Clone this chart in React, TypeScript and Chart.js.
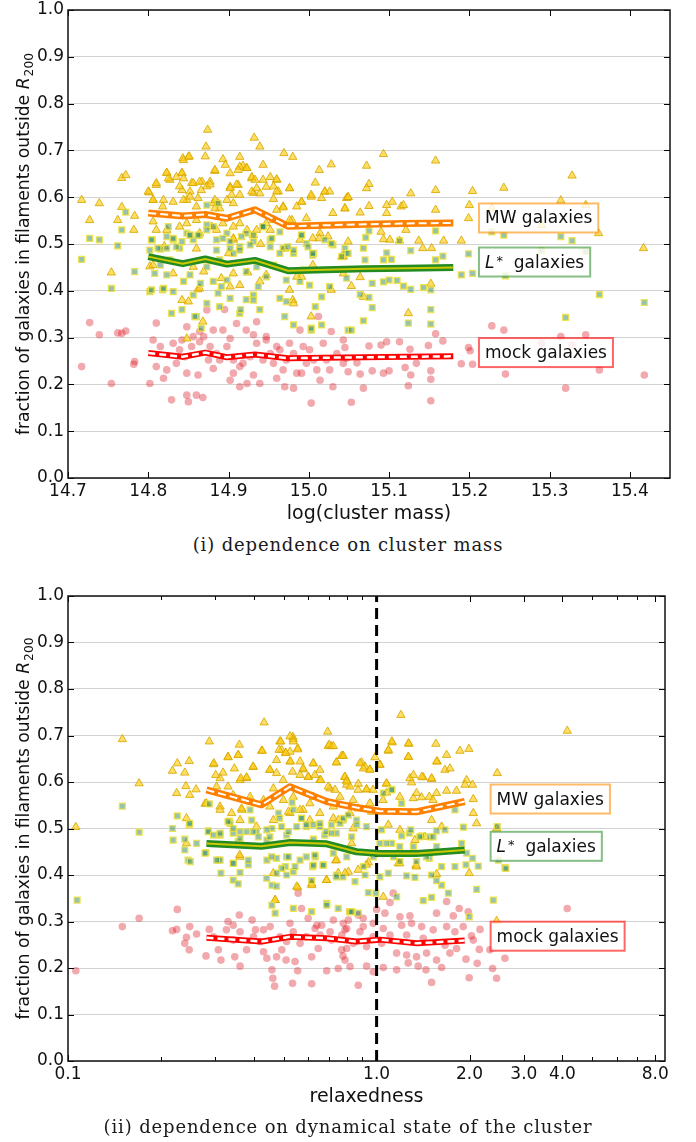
import React, { useEffect, useRef } from "react";
import { Chart, registerables } from "chart.js";

Chart.register(...registerables);

type Pt = [number, number];

// ---------- axis ticks ----------
const massTicks = [14.7, 14.8, 14.9, 15.0, 15.1, 15.2, 15.3, 15.4];
const fractionTicks = [0, 0.1, 0.2, 0.3, 0.4, 0.5, 0.6, 0.7, 0.8, 0.9, 1.0];
const relaxMajorTicks = [0.1, 1, 2, 3, 4, 8];
const relaxMinorTicks = [0.2, 0.3, 0.4, 0.5, 0.6, 0.7, 0.8, 0.9, 5, 6, 7];

// ---------- medians ----------
const massBins = [14.8, 14.843, 14.871, 14.898, 14.933, 14.974, 15.02, 15.07, 15.12, 15.18];
const massMWMedian = [0.566, 0.56, 0.563, 0.555, 0.573, 0.538, 0.54, 0.542, 0.544, 0.545];
const massLStarMedian = [0.473, 0.458, 0.468, 0.457, 0.465, 0.443, 0.445, 0.447, 0.448, 0.45];
const massMockMedian = [0.267, 0.259, 0.268, 0.258, 0.264, 0.256, 0.257, 0.258, 0.259, 0.26];

const relaxBins = [0.281, 0.424, 0.524, 0.689, 0.861, 1.025, 1.35, 1.93];
const relaxMWMedian = [0.583, 0.551, 0.59, 0.558, 0.545, 0.537, 0.536, 0.558];
const relaxLStarMedian = [0.468, 0.462, 0.47, 0.467, 0.45, 0.446, 0.446, 0.454];
const relaxMockMedian = [0.265, 0.257, 0.267, 0.264, 0.257, 0.261, 0.253, 0.259];

const relaxedThreshold = 1.0;

// ---------- scatter: cluster mass panel ----------
const massMWPts: Pt[] = [
  [14.717,0.594],[14.727,0.551],[14.739,0.587],[14.762,0.551],[14.767,0.641],[14.772,0.647],[14.767,0.579],[14.782,0.53],[14.783,0.56],
  [14.874,0.744],[14.872,0.708],[14.932,0.727],[14.939,0.708],[14.969,0.694],[14.98,0.686],[14.843,0.683],[14.85,0.686],[14.914,0.686],
  [14.893,0.681],[14.871,0.687],[14.823,0.652],[14.842,0.651],[14.883,0.656],[14.896,0.669],[14.918,0.667],[14.922,0.662],[14.943,0.669],
  [14.96,0.637],[15.013,0.658],[15.028,0.67],[14.801,0.61],[14.81,0.626],[14.827,0.637],[14.842,0.615],[14.854,0.63],[14.867,0.633],
  [14.877,0.633],[14.902,0.622],[14.912,0.626],[14.929,0.64],[14.931,0.609],[14.947,0.622],[14.962,0.612],[14.976,0.619],[14.991,0.59],
  [15.003,0.601],[15.008,0.631],[15.02,0.612],[15.047,0.598],[14.806,0.594],[14.818,0.58],[14.848,0.594],[14.86,0.58],[14.881,0.587],
  [14.889,0.576],[14.906,0.587],[14.956,0.596],[14.968,0.58],[15.03,0.566],[15.014,0.523],[14.979,0.551],[14.81,0.53],[14.839,0.537],
  [14.864,0.523],[14.885,0.53],[14.906,0.509],[14.931,0.519],[14.952,0.53],[14.989,0.509],[15.024,0.516],[15.043,0.473],
  [15.093,0.692],[15.158,0.678],[15.072,0.667],[15.328,0.646],[15.075,0.628],[15.072,0.619],[15.127,0.608],[15.158,0.615],[15.204,0.613],
  [15.243,0.62],[15.314,0.593],[15.345,0.583],[15.049,0.6],[15.045,0.576],[15.075,0.581],[15.097,0.583],[15.104,0.59],[15.115,0.58],
  [15.118,0.583],[15.064,0.567],[15.097,0.566],[15.158,0.573],[15.2,0.583],[15.199,0.555],[15.228,0.576],[15.29,0.54],[15.361,0.523],
  [15.417,0.491],[15.09,0.526],[15.121,0.53],[15.093,0.51],[15.101,0.509],[15.113,0.507],[15.137,0.507],[15.168,0.507],[15.19,0.507],
  [15.142,0.491],[15.153,0.491],[15.041,0.473],[15.064,0.429],[15.053,0.41],[15.068,0.387],[15.152,0.415],[15.124,0.352],
  [14.754,0.439],[14.802,0.452],[14.842,0.38],[14.85,0.377],[14.862,0.403],[14.869,0.441],[14.891,0.427],[14.914,0.412],[14.924,0.439],
  [14.939,0.42],[14.976,0.402],[14.98,0.38],[14.991,0.43],[15.003,0.345],[15.028,0.402],[15.043,0.437],[14.848,0.298],[14.868,0.334],
  [14.806,0.455],[14.831,0.437],[14.856,0.451],[14.906,0.437],[14.947,0.434],[14.985,0.43],[15.005,0.455],[14.864,0.405],[14.902,0.409],
  [14.981,0.373],[14.82,0.495],[14.86,0.49],[14.9,0.48],[14.94,0.5],[14.97,0.49],
  [14.8,0.612],[14.81,0.63],[14.823,0.652],[14.825,0.64],[14.835,0.643],[14.842,0.652],[14.844,0.64],[14.839,0.623],[14.852,0.612],
  [14.856,0.63],[14.864,0.633],[14.866,0.615],[14.873,0.623],[14.877,0.627],[14.806,0.594],[14.819,0.594],[14.831,0.59],[14.844,0.594],
  [14.852,0.601],[14.862,0.598],[14.883,0.594],[14.887,0.587],[14.883,0.576],[14.898,0.594],[14.902,0.619],[14.91,0.627],[14.904,0.605],
  [14.914,0.605],[14.914,0.665],[14.912,0.658],[14.923,0.662],[14.929,0.643],[14.933,0.637],[14.943,0.637],[14.952,0.643],[14.96,0.638],
  [14.929,0.612],[14.935,0.619],[14.939,0.608],[14.956,0.623],[14.96,0.612],[14.976,0.619],[15.003,0.605],[15.016,0.598],[15.02,0.612],
  [15.026,0.612],[15.049,0.6],[14.991,0.59],[14.985,0.58],[14.968,0.578],[14.96,0.573],[15.045,0.576],[14.902,0.651],[14.883,0.658],
  [14.844,0.679],[14.851,0.687],[14.806,0.548],[14.823,0.53],[14.848,0.544],[14.86,0.551],[14.879,0.537],[14.893,0.544],[14.906,0.537],
  [14.914,0.544],[14.923,0.53],[14.935,0.53],[14.947,0.544],[14.956,0.551],[14.976,0.551],[14.997,0.555],[14.906,0.512],[15.005,0.512],
  [15.013,0.512],[15.049,0.505]
];

const massLStarPts: Pt[] = [
  [14.717,0.467],[14.727,0.512],[14.739,0.509],[14.762,0.496],[14.772,0.568],[14.767,0.53],[14.805,0.509],[14.815,0.489],[14.825,0.537],
  [14.831,0.509],[14.839,0.491],[14.848,0.523],[14.856,0.509],[14.864,0.519],[14.873,0.583],[14.881,0.537],[14.887,0.587],[14.898,0.523],
  [14.906,0.48],[14.914,0.494],[14.922,0.523],[14.931,0.505],[14.943,0.537],[14.952,0.509],[14.968,0.491],[14.981,0.48],[14.991,0.519],
  [15.006,0.48],[15.02,0.509],[15.03,0.498],[15.045,0.491],
  [14.754,0.405],[14.783,0.441],[14.802,0.398],[14.808,0.437],[14.818,0.402],[14.823,0.434],[14.829,0.352],[14.831,0.398],[14.842,0.36],
  [14.844,0.42],[14.852,0.434],[14.856,0.391],[14.86,0.345],[14.865,0.416],[14.866,0.32],[14.873,0.373],[14.881,0.42],[14.887,0.395],
  [14.889,0.366],[14.898,0.423],[14.902,0.384],[14.914,0.352],[14.915,0.36],[14.922,0.381],[14.931,0.391],[14.937,0.409],[14.939,0.36],
  [14.947,0.43],[14.964,0.384],[14.972,0.377],[14.981,0.327],[14.989,0.42],[15.001,0.412],[15.003,0.316],[15.008,0.366],[15.016,0.387],
  [15.016,0.327],[15.026,0.409],[15.047,0.427],[15.049,0.316],
  [14.802,0.487],[14.823,0.516],[14.835,0.494],[14.852,0.519],[14.873,0.541],[14.885,0.487],[14.902,0.505],[14.914,0.487],[14.927,0.498],
  [14.943,0.537],[14.952,0.494],[14.964,0.48],[14.981,0.487],[14.997,0.501],[15.005,0.476],[14.815,0.455],[14.827,0.466],[14.873,0.451],
  [14.889,0.466],[14.922,0.441],[14.935,0.451],[14.956,0.455],[14.972,0.423],[14.993,0.444],[14.804,0.402],[14.819,0.405],[14.858,0.345],
  [14.891,0.409],[14.931,0.38],[14.97,0.345],[15.003,0.32],
  [15.075,0.528],[15.158,0.528],[15.228,0.526],[15.243,0.519],[15.314,0.516],[15.328,0.507],[15.071,0.514],[15.113,0.507],[15.046,0.48],
  [15.068,0.491],[15.097,0.481],[15.127,0.486],[15.167,0.474],[15.199,0.479],[15.29,0.486],[15.345,0.484],[15.093,0.466],[15.103,0.467],
  [15.158,0.466],[15.07,0.466],
  [15.19,0.434],[15.204,0.437],[15.245,0.432],[15.079,0.416],[15.093,0.419],[15.1,0.423],[15.11,0.422],[15.118,0.41],[15.127,0.403],
  [15.143,0.407],[15.152,0.402],[15.064,0.392],[15.075,0.386],[15.079,0.364],[15.362,0.392],[15.418,0.375],[15.068,0.336],[15.053,0.316],
  [15.32,0.343],[15.124,0.331],[15.152,0.36],[15.152,0.329],
  [14.804,0.509],[14.812,0.491],[14.823,0.491],[14.831,0.512],[14.842,0.505],[14.852,0.519],[14.862,0.519],[14.873,0.53],[14.885,0.509],
  [14.893,0.512],[14.902,0.491],[14.916,0.516],[14.931,0.519],[14.943,0.537],[14.954,0.512],[14.964,0.526],[14.974,0.494],[14.991,0.519],
  [14.999,0.494],[15.005,0.48],[15.028,0.501],[15.041,0.473],[15.049,0.48]
];

const massMockPts: Pt[] = [
  [14.717,0.238],[14.727,0.332],[14.739,0.306],[14.754,0.202],[14.762,0.31],[14.767,0.309],[14.772,0.314],[14.782,0.243],[14.783,0.249],
  [14.802,0.202],[14.806,0.295],[14.81,0.331],[14.819,0.213],[14.829,0.167],[14.848,0.177],[14.85,0.163],[14.86,0.177],[14.868,0.172],
  [14.873,0.359],[14.881,0.316],[14.893,0.316],[14.895,0.36],[14.902,0.209],[14.914,0.195],[14.923,0.202],[14.935,0.334],[14.939,0.202],
  [14.947,0.295],[14.96,0.213],[14.97,0.195],[14.981,0.192],[14.991,0.224],[15.003,0.16],[15.012,0.345],[15.014,0.209],[15.03,0.195],
  [15.047,0.256],[15.043,0.295],[15.028,0.313],
  [14.831,0.288],[14.839,0.274],[14.846,0.259],[14.854,0.281],[14.864,0.291],[14.875,0.252],[14.885,0.266],[14.898,0.281],[14.906,0.252],
  [14.914,0.238],[14.927,0.259],[14.935,0.288],[14.943,0.252],[14.952,0.266],[14.964,0.274],[14.972,0.252],[14.981,0.266],[14.993,0.281],
  [15.006,0.252],[15.018,0.288],[15.026,0.231],[14.81,0.238],[14.823,0.231],[14.835,0.245],[14.848,0.224],[14.862,0.22],[14.881,0.234],
  [14.889,0.252],[14.906,0.224],[14.918,0.245],[14.931,0.22],[14.956,0.245],[14.968,0.231],[14.985,0.224],[14.997,0.245],[15.01,0.231],
  [15.022,0.252],[15.035,0.266],[14.815,0.281],[14.842,0.295],[14.856,0.302],[14.869,0.302],[14.877,0.281],[14.902,0.298],[14.931,0.306],
  [14.947,0.302],[14.96,0.281],[14.976,0.288],[15.001,0.274],[14.848,0.323],[14.864,0.313],[14.91,0.33],[14.922,0.316],[14.989,0.316],
  [15.228,0.325],[15.243,0.316],[15.158,0.308],[15.167,0.293],[15.29,0.288],[15.314,0.302],[15.345,0.306],[15.328,0.284],[15.199,0.279],
  [15.201,0.272],[15.19,0.244],[15.204,0.243],[15.245,0.222],[15.362,0.231],[15.418,0.22],[15.32,0.192],[15.152,0.229],[15.152,0.211],
  [15.152,0.165],[15.124,0.197],[15.068,0.192],[15.053,0.162],[15.127,0.22],[15.093,0.224],[15.1,0.229],[15.064,0.222],[15.045,0.279],
  [15.075,0.282],[15.09,0.284],[15.097,0.291],[15.113,0.291],[15.126,0.275],[15.149,0.283],[15.134,0.245],[15.12,0.236],[15.079,0.229],
  [15.049,0.227],[15.043,0.245],[15.06,0.246]
];

// ---------- scatter: relaxedness panel ----------
const relaxMWPts: Pt[] = [
  [0.106,0.503],[0.15,0.692],[0.17,0.597],[0.218,0.624],[0.226,0.64],[0.239,0.62],[0.247,0.645],[0.225,0.576],[0.241,0.591],[0.248,0.572],
  [0.26,0.584],[0.242,0.522],[0.287,0.687],[0.278,0.553],[0.296,0.638],[0.311,0.608],[0.33,0.654],[0.356,0.658],[0.361,0.604],[0.379,0.608],
  [0.398,0.632],[0.424,0.667],[0.432,0.728],[0.451,0.626],[0.474,0.619],[0.486,0.687],[0.492,0.669],[0.507,0.663],[0.524,0.665],[0.535,0.697],
  [0.537,0.692],[0.555,0.672],[0.524,0.644],[0.565,0.644],[0.578,0.627],[0.601,0.611],[0.624,0.64],[0.655,0.604],[0.694,0.708],[0.697,0.677],
  [0.714,0.677],[0.741,0.642],[0.776,0.656],[0.789,0.611],[0.8,0.594],[0.303,0.59],[0.33,0.59],[0.343,0.572],[0.366,0.54],[0.389,0.558],
  [0.43,0.561],[0.463,0.586],[0.499,0.561],[0.537,0.568],[0.624,0.568],[0.706,0.586],[0.724,0.547],[0.311,0.547],[0.361,0.518],[0.408,0.504],
  [0.463,0.518],[0.524,0.533],[0.578,0.54],[0.655,0.533],[0.751,0.518],
  [1.199,0.744],[4.147,0.71],[1.124,0.685],[1.273,0.682],[1.556,0.682],[1.091,0.667],[1.266,0.654],[1.686,0.658],[1.862,0.667],[1.991,0.671],
  [0.77,0.656],[0.988,0.653],[1.025,0.637],[0.894,0.642],[0.917,0.633],[0.951,0.627],[1.572,0.644],[1.665,0.626],[1.728,0.629],[2.46,0.619],
  [1.298,0.599],[1.416,0.61],[1.507,0.606],[1.282,0.608],[1.957,0.604],[1.933,0.594],[2.046,0.594],[1.816,0.581],[1.686,0.581],[1.564,0.576],
  [1.399,0.567],[1.481,0.568],[1.315,0.565],[1.077,0.596],[1.077,0.577],[0.928,0.584],[0.872,0.596],[0.8,0.604],[0.82,0.59],[2.057,0.563],
  [2.109,0.511],[2.448,0.5],[2.057,0.533],[1.091,0.508],[1.19,0.497],[1.507,0.518],[1.624,0.504],[1.331,0.475],[1.434,0.482],[0.963,0.536],
  [0.82,0.533],[0.872,0.543],
  [0.463,0.404],[0.469,0.346],[0.555,0.373],[0.616,0.381],[0.688,0.389],[0.737,0.431],[0.751,0.404],[0.81,0.407],
  [1.051,0.353],[1.175,0.425],[1.341,0.421],[1.564,0.402],[1.995,0.404],[2.448,0.301],[0.94,0.427],[0.79,0.404],
  [0.361,0.439],[0.551,0.375],[0.469,0.346],[0.689,0.389],[0.617,0.378],[0.871,0.411],[0.242,0.468],
  [0.297,0.64],[0.301,0.615],[0.318,0.62],[0.33,0.653],[0.346,0.629],[0.359,0.68],[0.356,0.658],[0.363,0.608],[0.379,0.61],[0.398,0.633],
  [0.426,0.667],[0.451,0.626],[0.474,0.647],[0.483,0.669],[0.489,0.687],[0.498,0.604],[0.508,0.662],[0.524,0.698],[0.537,0.687],[0.555,0.67],
  [0.526,0.644],[0.534,0.622],[0.565,0.615],[0.578,0.629],[0.6,0.611],[0.623,0.64],[0.631,0.615],[0.655,0.626],[0.659,0.604],[0.702,0.68],
  [0.724,0.677],[0.741,0.642],[0.78,0.656],[0.789,0.611],[0.697,0.59],[0.733,0.583],[0.8,0.601],[0.883,0.64],[0.906,0.629],[0.951,0.626],
  [0.871,0.583],[0.927,0.584],[0.974,0.583],[1.077,0.597],[1.025,0.637],[1.12,0.687],[1.092,0.669],[1.268,0.683],[1.268,0.654],[1.316,0.615],
  [1.4,0.611],[1.508,0.608],[1.565,0.644],
  [0.281,0.554],[0.311,0.54],[0.339,0.533],[0.365,0.543],[0.389,0.568],[0.451,0.547],[0.518,0.536],[0.565,0.54],[0.608,0.554],[0.761,0.568],
  [0.839,0.561],[0.951,0.554],[1.049,0.561],[1.189,0.568],[1.347,0.576],[1.523,0.561],[0.608,0.518],[0.724,0.522],[0.839,0.5],[0.83,0.468],
  [0.36,0.443],[0.741,0.432],[0.927,0.422],[1.189,0.425],[1.347,0.418]
];

const relaxLStarPts: Pt[] = [
  [0.15,0.548],[0.17,0.492],[0.218,0.5],[0.219,0.475],[0.226,0.527],[0.239,0.477],[0.247,0.508],[0.261,0.468],[0.287,0.553],[0.285,0.495],
  [0.28,0.448],[0.311,0.486],[0.333,0.516],[0.343,0.49],[0.356,0.472],[0.379,0.493],[0.389,0.54],[0.408,0.493],[0.441,0.475],[0.458,0.5],
  [0.481,0.533],[0.511,0.486],[0.532,0.556],[0.537,0.54],[0.571,0.522],[0.592,0.504],[0.624,0.477],[0.655,0.504],[0.679,0.486],[0.714,0.508],
  [0.741,0.49],[0.778,0.518],[0.307,0.432],[0.343,0.425],[0.384,0.422],[0.441,0.432],[0.474,0.436],[0.506,0.418],[0.565,0.432],[0.632,0.439],
  [0.671,0.422],[0.724,0.447],[0.239,0.454],[0.245,0.432],
  [0.107,0.346],[0.249,0.429],[0.313,0.404],[0.343,0.389],[0.356,0.381],[0.361,0.405],[0.44,0.393],[0.458,0.378],[0.474,0.376],[0.458,0.335],
  [0.469,0.318],[0.493,0.414],[0.511,0.4],[0.537,0.407],[0.544,0.418],[0.62,0.418],[0.616,0.388],[0.616,0.321],[0.671,0.421],[0.689,0.339],
  [0.741,0.4],[0.751,0.328],[0.778,0.396],[0.817,0.321],[0.537,0.328],
  [1.119,0.584],[1.051,0.576],[1.794,0.54],[1.91,0.503],[2.46,0.504],[1.665,0.497],[1.564,0.495],[1.399,0.484],[1.489,0.482],[1.276,0.49],
  [1.205,0.484],[1.119,0.468],[1.025,0.468],[0.861,0.518],[0.83,0.482],[0.761,0.511],[1.886,0.468],[1.957,0.447],[2.046,0.436],[1.948,0.422],
  [2.48,0.432],[2.605,0.416],[1.481,0.436],[1.624,0.418],[1.794,0.418],[1.347,0.429],[1.19,0.429],[0.975,0.439],
  [2.135,0.419],[2.624,0.414],[2.109,0.369],[2.388,0.346],[1.995,0.31],[1.708,0.361],[1.624,0.378],[1.564,0.388],[1.331,0.395],[1.251,0.398],
  [1.507,0.4],[1.161,0.353],[1.091,0.404],[0.995,0.361],[0.94,0.362],[0.851,0.386],[0.917,0.4],[1.025,0.396],[0.82,0.321],[0.872,0.318],
  [1.416,0.345],[1.507,0.352],
  [0.248,0.511],[0.335,0.511],[0.311,0.432],[0.384,0.432],[0.511,0.439],[0.474,0.404],[0.624,0.421],[0.741,0.396],[0.906,0.418],[0.689,0.335],
  [0.83,0.321],
  [0.285,0.493],[0.296,0.486],[0.311,0.49],[0.33,0.515],[0.343,0.5],[0.361,0.493],[0.361,0.479],[0.394,0.518],[0.398,0.493],[0.414,0.482],
  [0.441,0.497],[0.451,0.482],[0.485,0.522],[0.492,0.504],[0.518,0.493],[0.551,0.504],[0.571,0.522],[0.592,0.508],[0.623,0.508],[0.655,0.511],
  [0.686,0.493],[0.714,0.49],[0.78,0.522],[0.81,0.529],[0.862,0.508],[0.927,0.504],[1.038,0.497],[1.12,0.583],[1.205,0.554],[1.29,0.497],
  [1.38,0.482],[1.523,0.482],[1.077,0.468],[1.189,0.461],[1.316,0.461],[1.565,0.461],[0.278,0.447],[0.343,0.425],[0.457,0.439],[0.518,0.439],
  [0.592,0.439],[0.631,0.443],[0.8,0.439],[0.303,0.432],[1.135,0.439],[1.45,0.439]
];

const relaxMockPts: Pt[] = [
  [0.106,0.194],[0.15,0.289],[0.17,0.307],[0.226,0.326],[0.218,0.28],[0.225,0.283],[0.239,0.253],[0.242,0.266],[0.248,0.289],[0.247,0.239],
  [0.261,0.273],[0.28,0.226],[0.287,0.283],[0.307,0.239],[0.313,0.217],[0.33,0.3],[0.343,0.26],[0.347,0.224],[0.361,0.204],[0.359,0.314],
  [0.379,0.239],[0.395,0.303],[0.405,0.282],[0.43,0.235],[0.441,0.221],[0.452,0.289],[0.458,0.196],[0.461,0.178],[0.467,0.161],[0.474,0.224],
  [0.493,0.239],[0.509,0.217],[0.524,0.296],[0.534,0.167],[0.544,0.214],[0.555,0.194],[0.557,0.361],[0.571,0.328],[0.592,0.267],[0.6,0.307],
  [0.616,0.224],[0.616,0.166],[0.632,0.285],[0.647,0.242],[0.664,0.292],[0.689,0.194],[0.714,0.26],[0.724,0.303],[0.751,0.199],[0.771,0.271],
  [0.778,0.226],[0.8,0.242],[0.81,0.303],[0.296,0.267],[0.326,0.282],[0.361,0.278],[0.399,0.267],[0.43,0.282],[0.486,0.267],[0.511,0.257],
  [0.565,0.253],[0.656,0.271],[0.707,0.278],[0.79,0.282],[0.343,0.292],[0.418,0.257],[0.537,0.278],[0.64,0.292],
  [4.147,0.328],[1.132,0.361],[1.105,0.341],[1.0,0.326],[1.686,0.343],[1.852,0.328],[1.564,0.318],[1.772,0.312],[1.981,0.321],[1.282,0.312],
  [1.19,0.31],[1.064,0.318],[0.872,0.314],[0.905,0.307],[0.975,0.296],[1.051,0.285],[1.205,0.292],[1.298,0.296],[1.399,0.289],[1.525,0.282],
  [1.686,0.289],[1.794,0.278],[1.908,0.289],[2.163,0.283],[2.029,0.269],[2.057,0.26],[2.152,0.24],[2.329,0.239],[2.605,0.221],[1.948,0.219],
  [2.118,0.21],[2.376,0.199],[2.448,0.178],[1.995,0.179],[1.507,0.169],[1.624,0.201],[1.445,0.196],[1.364,0.204],[1.266,0.211],[1.161,0.196],
  [1.051,0.201],[0.975,0.192],[0.928,0.204],[0.872,0.163],[0.82,0.203],[0.79,0.217],[0.77,0.239],[0.84,0.253],[0.928,0.246],[1.038,0.253],
  [1.161,0.232],[1.251,0.228],[1.347,0.224],[1.452,0.232],[1.564,0.217],[1.728,0.232],[1.816,0.242],[1.665,0.249],[1.416,0.264],[1.251,0.271],
  [1.105,0.271],[0.975,0.267],[0.883,0.278],[0.8,0.285],[0.78,0.296],[0.905,0.289]
];

// ---------- styling ----------
const FONT = '"DejaVu Sans", sans-serif';
const f = (size: number, style = "") => `${style} ${size}px ${FONT}`.trim();

type Seg = { t: string; font: string; dy?: number; dx?: number };
const mwLabel: Seg[] = [{ t: "MW galaxies", font: f(17) }];
const lsLabel: Seg[] = [
  { t: "L", font: f(17, "italic") },
  { t: "*", font: f(13), dy: -3, dx: 2 },
  { t: "  galaxies", font: f(17) },
];
const mockLabel: Seg[] = [{ t: "mock galaxies", font: f(17) }];

const ORANGE = "#ff8000";
const GREEN = "#228b22";
const RED = "#ff0000";

interface Panel {
  height: number;
  padTop: number;
  padRight: number;
  areaBottom: number;
  xType: "linear" | "logarithmic";
  xMin: number;
  xMax: number;
  xMajor: number[];
  xMinor: number[];
  xTitle: string;
  mw: Pt[];
  ls: Pt[];
  mock: Pt[];
  bins: number[];
  mwMed: number[];
  lsMed: number[];
  mockMed: number[];
  labelX: number;
  labelY: [number, number, number];
  refLine?: number;
}

const panelMass: Panel = {
  height: 530, padTop: 10, padRight: 26, areaBottom: 478,
  xType: "linear", xMin: 14.7, xMax: 15.45, xMajor: massTicks, xMinor: [],
  xTitle: "log(cluster mass)",
  mw: massMWPts, ls: massLStarPts, mock: massMockPts,
  bins: massBins, mwMed: massMWMedian, lsMed: massLStarMedian, mockMed: massMockMedian,
  labelX: 15.212, labelY: [0.5556, 0.4615, 0.268],
};

const panelRelax: Panel = {
  height: 540, padTop: 16, padRight: 31, areaBottom: 481,
  xType: "logarithmic", xMin: 0.1, xMax: 8.6, xMajor: relaxMajorTicks, xMinor: relaxMinorTicks,
  xTitle: "relaxedness",
  mw: relaxMWPts, ls: relaxLStarPts, mock: relaxMockPts,
  bins: relaxBins, mwMed: relaxMWMedian, lsMed: relaxLStarMedian, mockMed: relaxMockMedian,
  labelX: 2.341, labelY: [0.5634, 0.4617, 0.2684],
  refLine: relaxedThreshold,
};

function drawSegs(ctx: CanvasRenderingContext2D, segs: Seg[], x: number, y: number, measureOnly = false) {
  let cx = x;
  for (const s of segs) {
    ctx.font = s.font;
    cx += s.dx || 0;
    if (!measureOnly) ctx.fillText(s.t, cx, y + (s.dy || 0));
    cx += ctx.measureText(s.t).width;
  }
  return cx - x;
}

function makeDecor(p: Panel) {
  return {
    id: "decor",
    afterDatasetsDraw(chart: any) {
      const ctx: CanvasRenderingContext2D = chart.ctx;
      const a = chart.chartArea;
      const xs = chart.scales.x;
      const ys = chart.scales.y;
      ctx.save();
      ctx.strokeStyle = "#000";
      ctx.lineWidth = 1;
      const vt = (v: number, len: number) => {
        const px = Math.round(xs.getPixelForValue(v)) + 0.5;
        ctx.beginPath();
        ctx.moveTo(px, a.bottom);
        ctx.lineTo(px, a.bottom - len);
        ctx.moveTo(px, a.top);
        ctx.lineTo(px, a.top + len);
        ctx.stroke();
      };
      p.xMajor.forEach((v) => vt(v, 6));
      p.xMinor.forEach((v) => vt(v, 4));
      fractionTicks.forEach((v) => {
        const py = Math.round(ys.getPixelForValue(v)) + 0.5;
        ctx.beginPath();
        ctx.moveTo(a.left, py);
        ctx.lineTo(a.left + 6, py);
        ctx.moveTo(a.right, py);
        ctx.lineTo(a.right - 6, py);
        ctx.stroke();
      });
      ctx.lineWidth = 1.5;
      ctx.strokeStyle = "#111";
      ctx.strokeRect(a.left, a.top, a.right - a.left, a.bottom - a.top);
      const boxes: [Seg[], string, number][] = [
        [mwLabel, "rgba(255,140,0,0.6)", p.labelY[0]],
        [lsLabel, "rgba(34,139,34,0.55)", p.labelY[1]],
        [mockLabel, "rgba(255,0,0,0.6)", p.labelY[2]],
      ];
      ctx.textBaseline = "alphabetic";
      ctx.textAlign = "left";
      for (const [segs, col, yv] of boxes) {
        const bx = xs.getPixelForValue(p.labelX);
        const by = ys.getPixelForValue(yv);
        const w = drawSegs(ctx, segs, 0, 0, true);
        const bw = w + 12;
        const bh = 29;
        ctx.fillStyle = "rgba(255,255,255,0.8)";
        ctx.fillRect(bx, by - bh / 2, bw, bh);
        ctx.strokeStyle = col;
        ctx.lineWidth = 2;
        ctx.strokeRect(bx, by - bh / 2, bw, bh);
        ctx.fillStyle = "#111";
        drawSegs(ctx, segs, bx + 6, by + 5.5);
      }
      ctx.restore();
    },
    afterDraw(chart: any) {
      const ctx: CanvasRenderingContext2D = chart.ctx;
      const a = chart.chartArea;
      ctx.save();
      ctx.fillStyle = "#111";
      ctx.font = f(19);
      ctx.textAlign = "center";
      ctx.textBaseline = "alphabetic";
      ctx.fillText(p.xTitle, (a.left + a.right) / 2, a.bottom + 41);
      ctx.textAlign = "left";
      const s1 = "fraction of galaxies in filaments outside ";
      const fs = 17.2;
      ctx.font = f(fs);
      const w1 = ctx.measureText(s1).width;
      ctx.font = f(fs, "italic");
      const wR = ctx.measureText("R").width;
      ctx.font = f(12.3);
      const wS = ctx.measureText("200").width;
      const total = w1 + wR + 1 + wS;
      ctx.translate(29, (a.top + a.bottom) / 2);
      ctx.rotate(-Math.PI / 2);
      let x = -total / 2;
      ctx.font = f(fs);
      ctx.fillText(s1, x, 0);
      x += w1;
      ctx.font = f(fs, "italic");
      ctx.fillText("R", x, 0);
      x += wR + 1;
      ctx.font = f(12.3);
      ctx.fillText("200", x, 4);
      ctx.restore();
    },
  };
}

function buildConfig(p: Panel): any {
  const xy = (pts: Pt[]) => pts.map(([x, y]) => ({ x, y }));
  const med = (vals: number[]) => p.bins.map((x, i) => ({ x, y: vals[i] }));
  const lineBase = {
    showLine: true,
    pointRadius: 0,
    pointHoverRadius: 0,
    tension: 0,
    borderJoinStyle: "round",
    borderCapStyle: "butt",
    fill: false,
  };
  const datasets: any[] = [
    { ...lineBase, data: med(p.mwMed), borderColor: "#ffffff", borderWidth: 2, borderDash: [8, 4], order: 0 },
    { ...lineBase, data: med(p.lsMed), borderColor: "#cfc800", borderWidth: 2, order: 0 },
    { ...lineBase, data: med(p.mockMed), borderColor: "#ffffff", borderWidth: 2.5, borderDash: [7, 4], order: 0 },
    { ...lineBase, data: med(p.mwMed), borderColor: ORANGE, borderWidth: 7, order: 1 },
    { ...lineBase, data: med(p.lsMed), borderColor: GREEN, borderWidth: 7, order: 1 },
    { ...lineBase, data: med(p.mockMed), borderColor: RED, borderWidth: 6, order: 1 },
    {
      data: xy(p.ls), pointStyle: "rect", pointRadius: 4.2,
      backgroundColor: "rgba(45,135,95,0.5)", borderColor: "rgba(238,226,70,0.9)", borderWidth: 1.3, order: 3,
    },
    {
      data: xy(p.mw), pointStyle: "triangle", pointRadius: 4.8,
      backgroundColor: "rgba(255,205,20,0.65)", borderColor: "rgba(215,168,0,0.85)", borderWidth: 1, order: 4,
    },
    {
      data: xy(p.mock), pointStyle: "circle", pointRadius: 3.8,
      backgroundColor: "rgba(220,30,40,0.38)", borderColor: "rgba(0,0,0,0)", borderWidth: 0, order: 5,
    },
  ];
  if (p.refLine !== undefined) {
    datasets.push({
      ...lineBase,
      data: [{ x: p.refLine, y: 0 }, { x: p.refLine, y: 1 }],
      borderColor: "#000", borderWidth: 3, borderDash: [11, 6], order: 2,
    });
  }
  const tickFont = { family: "DejaVu Sans", size: 17 };
  return {
    type: "scatter",
    data: { datasets },
    options: {
      responsive: false,
      maintainAspectRatio: false,
      animation: false,
      events: [],
      layout: { padding: { top: p.padTop, right: p.padRight, left: 0, bottom: 0 } },
      plugins: { legend: { display: false }, tooltip: { enabled: false } },
      scales: {
        x: {
          type: p.xType,
          min: p.xMin,
          max: p.xMax,
          grid: { display: false, drawTicks: false },
          border: { display: false },
          afterBuildTicks: (s: any) => {
            s.ticks = p.xMajor.map((v) => ({ value: v }));
          },
          afterFit: (s: any) => {
            s.height = p.height - p.areaBottom;
            s.paddingLeft = 0;
            s.paddingRight = 0;
          },
          ticks: {
            autoSkip: false, maxRotation: 0, minRotation: 0, padding: 3, color: "#111", font: tickFont,
            callback: (v: any) => Number(v).toFixed(1),
          },
        },
        y: {
          type: "linear",
          min: 0,
          max: 1,
          grid: { color: "#d2d2d2", lineWidth: 1, drawTicks: false },
          border: { display: false },
          afterBuildTicks: (s: any) => {
            s.ticks = fractionTicks.map((v) => ({ value: v }));
          },
          afterFit: (s: any) => {
            s.width = 68;
            s.paddingTop = 0;
            s.paddingBottom = 0;
          },
          ticks: {
            padding: 4, color: "#111", font: tickFont,
            callback: (v: any) => Number(v).toFixed(1),
          },
        },
      },
    },
    plugins: [makeDecor(p)],
  };
}

function PanelChart({ panel, top }: { panel: Panel; top: number }) {
  const ref = useRef<HTMLCanvasElement | null>(null);
  useEffect(() => {
    if (!ref.current) return;
    const chart = new Chart(ref.current, buildConfig(panel));
    return () => chart.destroy();
  }, [panel]);
  return (
    <canvas
      ref={ref}
      width={696}
      height={panel.height}
      style={{ position: "absolute", left: 0, top, width: 696, height: panel.height }}
    />
  );
}

const captionStyle: React.CSSProperties = {
  position: "absolute",
  left: 0,
  width: 696,
  textAlign: "center",
  fontFamily: '"DejaVu Serif", serif',
  fontSize: 18,
  letterSpacing: "0.85px",
  lineHeight: "18px",
  color: "#1a1a1a",
  whiteSpace: "nowrap",
};

export default function App() {
  return (
    <div style={{ position: "absolute", left: 0, top: 0, width: 696, height: 1142, background: "#fff", overflow: "hidden" }}>
      <PanelChart panel={panelMass} top={0} />
      <div style={{ ...captionStyle, top: 536 }}>(i) dependence on cluster mass</div>
      <PanelChart panel={panelRelax} top={580} />
      <div style={{ ...captionStyle, top: 1118 }}>(ii) dependence on dynamical state of the cluster</div>
    </div>
  );
}
